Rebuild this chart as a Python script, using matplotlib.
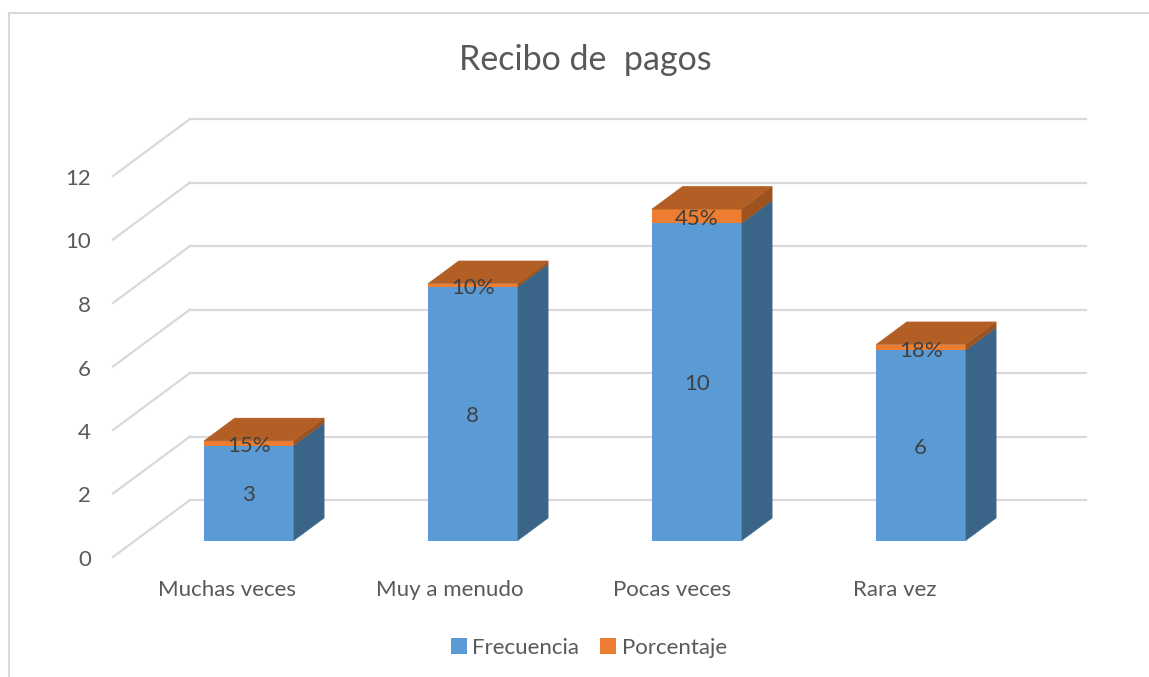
import matplotlib
matplotlib.use("Agg")
import matplotlib.pyplot as plt
from matplotlib.patches import Polygon, Rectangle
from matplotlib.lines import Line2D

plt.rcParams['font.family'] = ['Lato', 'DejaVu Sans']

# chart data
categories = ["Muchas veces", "Muy a menudo", "Pocas veces", "Rara vez"]
frecuencia = [3, 8, 10, 6]
porcentaje = [0.15, 0.10, 0.45, 0.18]
porcentaje_labels = ["15%", "10%", "45%", "18%"]
y_ticks = [0, 2, 4, 6, 8, 10, 12]

W, H = 1149, 677
TEXT = '#595959'
GRID = '#d9d9d9'
FONT = 16

fig = plt.figure(figsize=(W / 100, H / 100), dpi=100, facecolor='white')

# axes = front plane of the fake 3d box, in pixels
left, right, top, bottom = 113, 1009, 176, 557
ax = fig.add_axes([left / W, 1 - bottom / H, (right - left) / W, (bottom - top) / H])
ax.set_xlim(-0.5, 3.5)
ax.set_ylim(0, 12)
ax.axis('off')

# depth of the box in data units (77 px across, 57 px up)
PX_X = 1 / 224
PX_Y = 12 / 381
DX = 77 * PX_X
DY = 57 * PX_Y
BAR_W = 89.5 * PX_X
D_FRONT, D_BACK = 0.30, 0.70


def shift(x, y, d):
    return x + d * DX, y + d * DY


def face(points, color, z):
    ax.add_patch(Polygon(points, closed=True, facecolor=color, edgecolor=color,
                         linewidth=0.3, clip_on=False, zorder=z))


# walls
for v in y_ticks:
    x0, y0 = shift(-0.5, v, 1)
    x1, y1 = shift(3.5, v, 1)
    ax.plot([x0, x1], [y0, y1], color=GRID, lw=1.6, clip_on=False, zorder=1)
    ax.plot([-0.5, x0], [v, y0], color=GRID, lw=1.6, clip_on=False, zorder=1)
    ax.text(-0.5 - 22 * PX_X, v - 3 * PX_Y, str(v), ha='right', va='center',
            fontsize=FONT, color=TEXT)

# bars
for i in range(len(categories)):
    x0, _ = shift(i - BAR_W / 2, 0, D_FRONT)
    x0 += 0.5 * PX_X
    x1 = x0 + BAR_W
    _, base = shift(0, 0, D_FRONT)
    base -= 1 * PX_Y
    h1 = base + frecuencia[i]
    h2 = h1 + porcentaje[i]
    dx = (D_BACK - D_FRONT) * DX
    dy = (D_BACK - D_FRONT) * DY
    z = 3 + i
    ax.add_patch(Rectangle((x0, base), BAR_W, frecuencia[i], facecolor='#5b9bd5',
                           edgecolor='none', clip_on=False, zorder=z))
    ax.add_patch(Rectangle((x0, h1), BAR_W, porcentaje[i], facecolor='#ed7d31',
                           edgecolor='none', clip_on=False, zorder=z))
    face([(x1, base), (x1 + dx, base + dy), (x1 + dx, h1 + dy), (x1, h1)], '#3a6589', z)
    face([(x1, h1), (x1 + dx, h1 + dy), (x1 + dx, h2 + dy), (x1, h2)], '#9d5320', z)
    face([(x0, h2), (x1, h2), (x1 + dx, h2 + dy), (x0 + dx, h2 + dy)], '#b25e24', z)

    cx = x0 + BAR_W / 2
    ax.text(cx, base + frecuencia[i] / 2 - 2 * PX_Y, str(frecuencia[i]), ha='center',
            va='center', fontsize=FONT, color='#404040', zorder=20)
    ax.text(cx, h1 + porcentaje[i] / 2 - 3 * PX_Y, porcentaje_labels[i], ha='center',
            va='center', fontsize=FONT, color='#404040', zorder=20)
    ax.text(i + (2 - 1.3 * i) * PX_X, -1.03, categories[i], ha='center', va='center',
            fontsize=FONT, color=TEXT)

# outer chart border, open on the right and bottom
fig.add_artist(Line2D([8.5 / W, 8.5 / W, 1], [0, 1 - 13 / H, 1 - 13 / H],
                      color=GRID, lw=1.5))

fig.text(585 / W, 1 - 60 / H, "Recibo de  pagos", ha='center', va='center',
         fontsize=24.5, color=TEXT)

# legend
handles = [Rectangle((0, 0), 1, 1, facecolor='#5b9bd5'),
           Rectangle((0, 0), 1, 1, facecolor='#ed7d31')]
fig.legend(handles, ["Frecuencia", "Porcentaje"], loc='center', ncol=2,
           bbox_to_anchor=(589 / W, 1 - 648 / H), frameon=False, fontsize=FONT,
           labelcolor=TEXT, handlelength=0.7, handleheight=0.7, handletextpad=0.25,
           columnspacing=0.95)

fig.savefig("out.png", dpi=100)
